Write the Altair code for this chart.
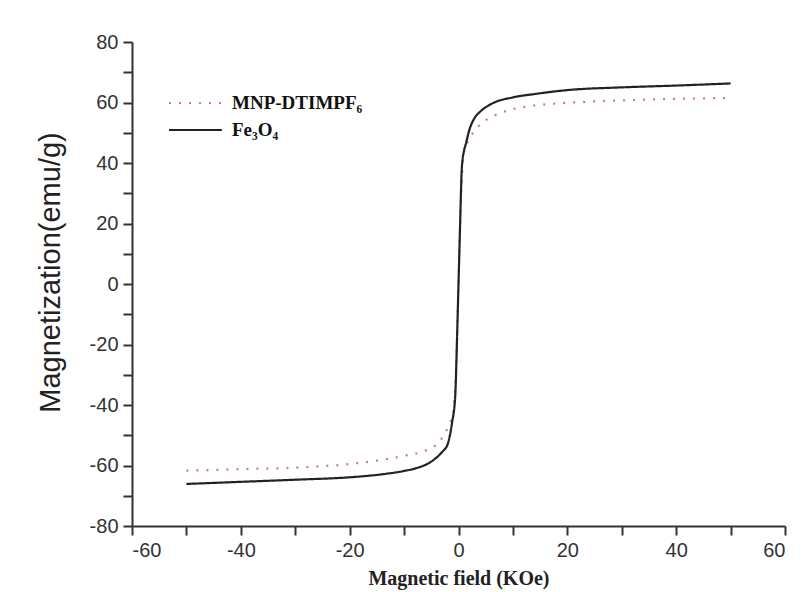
import altair as alt
import pandas as pd

fe_x = [-50, -40, -30, -20, -14, -10, -8, -5, -3, -2, -1.2, -0.6, -0.3, 0, 0.3, 0.6, 1, 1.3, 2, 3, 4, 6, 10, 14, 20, 30, 40, 50]
fe_y = [-66.1, -65.4, -64.7, -63.9, -62.9, -61.8, -61, -58.7, -55.5, -53, -46, -37, -20, 0, 20, 38, 44, 46, 51, 55, 57, 59.5, 61.7, 62.8, 64.1, 65, 65.6, 66.3]

mnp_x = [-50, -40, -30, -20, -14, -10, -6, -4, -2.6, -1.6, -1, -0.5, 0, 0.5, 1, 1.7, 2.8, 4.6, 6.4, 10, 14, 20, 30, 40, 50]
mnp_y = [-61.7, -61.2, -60.7, -59.5, -58.1, -56.8, -55, -53, -49.7, -46, -42.7, -30, 0, 30, 43.4, 47, 50.3, 53.6, 55.5, 57.8, 59, 59.9, 60.7, 61.2, 61.5]

series_names = ["MNP-DTIMPF₆", "Fe₃O₄"]
x_ticks = [-60, -50, -40, -30, -20, -10, 0, 10, 20, 30, 40, 50, 60]
y_ticks = [-80, -70, -60, -50, -40, -30, -20, -10, 0, 10, 20, 30, 40, 50, 60, 70, 80]

rows = []
for i, (x, y) in enumerate(zip(mnp_x, mnp_y)):
    rows.append({"series": series_names[0], "field": x, "mag": y, "order": i})
for i, (x, y) in enumerate(zip(fe_x, fe_y)):
    rows.append({"series": series_names[1], "field": x, "mag": y, "order": i})
df = pd.DataFrame(rows)

label_expr = "datum.value % 20 == 0 ? toString(datum.value) : ''"

chart = alt.Chart(df).mark_line(strokeWidth=2.2, interpolate="monotone").encode(
    x=alt.X("field:Q", scale=alt.Scale(domain=[-60, 60], nice=False),
            axis=alt.Axis(values=x_ticks, title="Magnetic field (KOe)",
                          labelExpr=label_expr,
                          grid=False, titleFont="Liberation Serif", titleFontWeight="bold",
                          titleFontSize=20, titlePadding=8, titleColor="#222")),
    y=alt.Y("mag:Q", scale=alt.Scale(domain=[-80, 80], nice=False),
            axis=alt.Axis(values=y_ticks, title="Magnetization(emu/g)",
                          labelExpr=label_expr,
                          grid=False, titleFont="Liberation Sans", titleFontWeight="normal",
                          titleFontSize=29, titlePadding=24, titleColor="#222",
                          titleY=230, titleAlign="center")),
    color=alt.Color("series:N", scale=alt.Scale(domain=series_names, range=["#c87c7c", "#222222"]),
                    legend=alt.Legend(title=None, orient="none", legendX=36, legendY=48,
                                      symbolType="M-1,0H3.4", symbolSize=576, symbolStrokeWidth=2,
                                      labelFont="Liberation Serif", labelFontWeight="bold",
                                      labelFontSize=19, labelColor="#111", rowPadding=4,
                                      labelOffset=38)),
    strokeDash=alt.StrokeDash("series:N", scale=alt.Scale(domain=series_names, range=[[2, 8], [1, 0]]),
                              legend=None),
    order="order:Q",
    detail="series:N",
).properties(
    width=653, height=484,
    autosize=alt.AutoSizeParams(type="none"),
    padding={"left": 132, "top": 42, "right": 16, "bottom": 66},
    background="white",
).configure_axis(
    domainColor="#333", domainWidth=2, tickColor="#333", tickWidth=2, tickSize=9,
    labelFont="Liberation Sans", labelFontSize=20, labelColor="#333", labelPadding=5,
).configure_view(stroke=None)

chart.save("out.html", embed_options={"renderer": "svg", "actions": False})
